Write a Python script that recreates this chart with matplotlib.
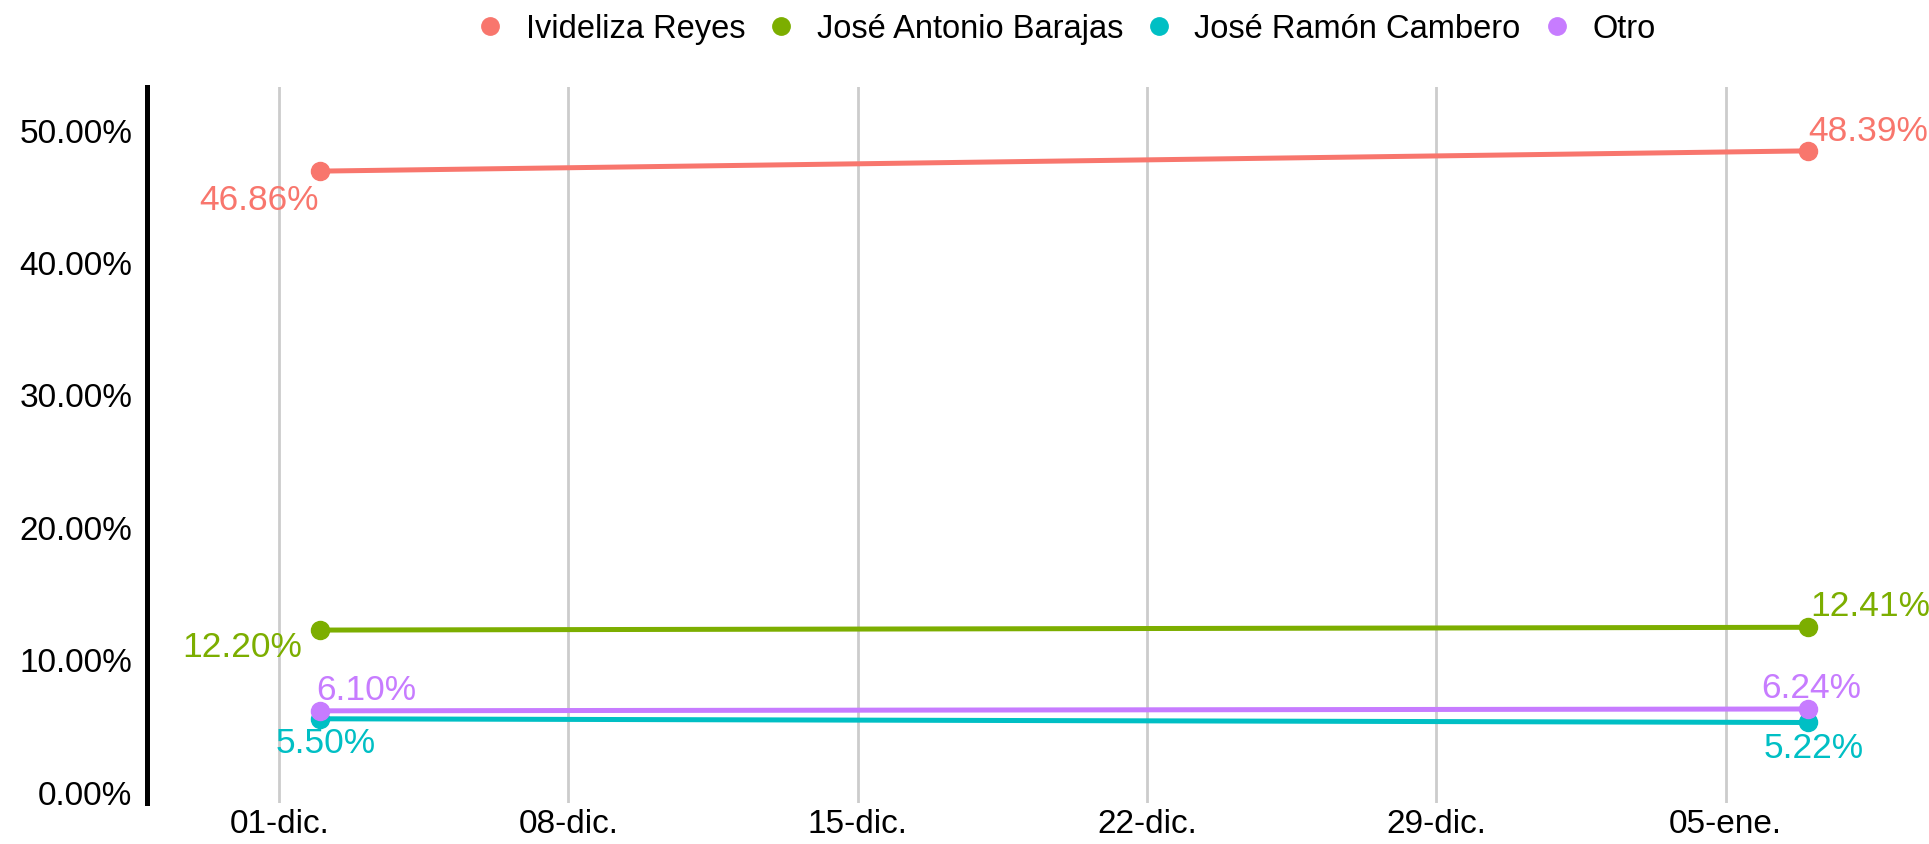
import datetime as dt
import matplotlib
matplotlib.use("Agg")
import matplotlib.pyplot as plt
import matplotlib.dates as mdates
from matplotlib.ticker import FuncFormatter
from matplotlib.lines import Line2D

plt.rcParams['font.family'] = ['Liberation Sans', 'DejaVu Sans']

# data
fechas = [dt.date(2021, 12, 2), dt.date(2022, 1, 7)]
candidatos = ["Ivideliza Reyes", "José Antonio Barajas", "José Ramón Cambero", "Otro"]
ivideliza = [46.86, 48.39]
barajas = [12.20, 12.41]
cambero = [5.50, 5.22]
otro = [6.10, 6.24]
tick_fechas = [dt.date(2021, 12, 1), dt.date(2021, 12, 8), dt.date(2021, 12, 15),
               dt.date(2021, 12, 22), dt.date(2021, 12, 29), dt.date(2022, 1, 5)]
tick_labels = ["01-dic.", "08-dic.", "15-dic.", "22-dic.", "29-dic.", "05-ene."]

series = [ivideliza, barajas, cambero, otro]
colores = ["#F8766D", "#7CAE00", "#00BFC4", "#C77CFF"]

# label placement (offset points, ha) for first / last point
estilo_izq = [((-1.1, -27.4), 'right'), ((-13.3, -18.5), 'right'),
              ((3.6, -24.0), 'center'), ((-3.2, 8.4), 'left')]
estilo_der = [((0, 8.1), 'left'), ((1.4, 9.1), 'left'),
              ((4.0, -24.5), 'center'), ((2.5, 8.6), 'center')]

W, H = 1929, 845
fig = plt.figure(figsize=(W / 100, H / 100), dpi=100)
ax = fig.add_axes([147.3 / W, 1 - 804 / H, (1921 - 147.3) / W, (804 - 88.3) / H])

x = mdates.date2num(fechas)
fs = 24
fs_lab = 25.5
for vals, col, ei, ed in zip(series, colores, estilo_izq, estilo_der):
    ax.plot(x, vals, color=col, lw=3.6, marker='o', ms=13, solid_capstyle='butt', zorder=3)
    for xi, vi, st in [(x[0], vals[0], ei), (x[-1], vals[-1], ed)]:
        ax.annotate("%.2f%%" % vi, (xi, vi), xytext=st[0], textcoords='offset points',
                    ha=st[1], va='baseline', color=col, fontsize=fs_lab, zorder=4,
                    annotation_clip=False)

d0 = mdates.date2num(dt.date(2021, 12, 1))
ax.set_xlim(d0 - 3.19, d0 + 39.73)
ax.set_ylim(-0.86, 53.19)

ax.set_xticks(mdates.date2num(tick_fechas))
ax.set_xticklabels(tick_labels)
ax.set_yticks([0, 10, 20, 30, 40, 50])
ax.yaxis.set_major_formatter(FuncFormatter(lambda v, p: "%.2f%%" % v))
ax.tick_params(axis='x', length=0, pad=3.6, labelsize=fs, colors='black')
ax.tick_params(axis='y', length=0, pad=10.6, labelsize=fs, colors='black')

ax.grid(axis='x', color='#CCCCCC', lw=2.0, zorder=0)
ax.grid(axis='y', visible=False)
for s in ['top', 'right', 'bottom']:
    ax.spines[s].set_visible(False)
ax.spines['left'].set_linewidth(3.6)
ax.spines['left'].set_color('black')

handles = [Line2D([], [], color=c, marker='o', ls='none', ms=12.5) for c in colores]
fig.legend(handles, candidatos, loc='center', ncol=4, frameon=False, fontsize=23.5,
           bbox_to_anchor=(1068.7 / W, 1 - 29.7 / H), borderpad=0, borderaxespad=0,
           handlelength=0.5, handletextpad=0.84, columnspacing=0.85)

fig.savefig("out.png", dpi=100)
